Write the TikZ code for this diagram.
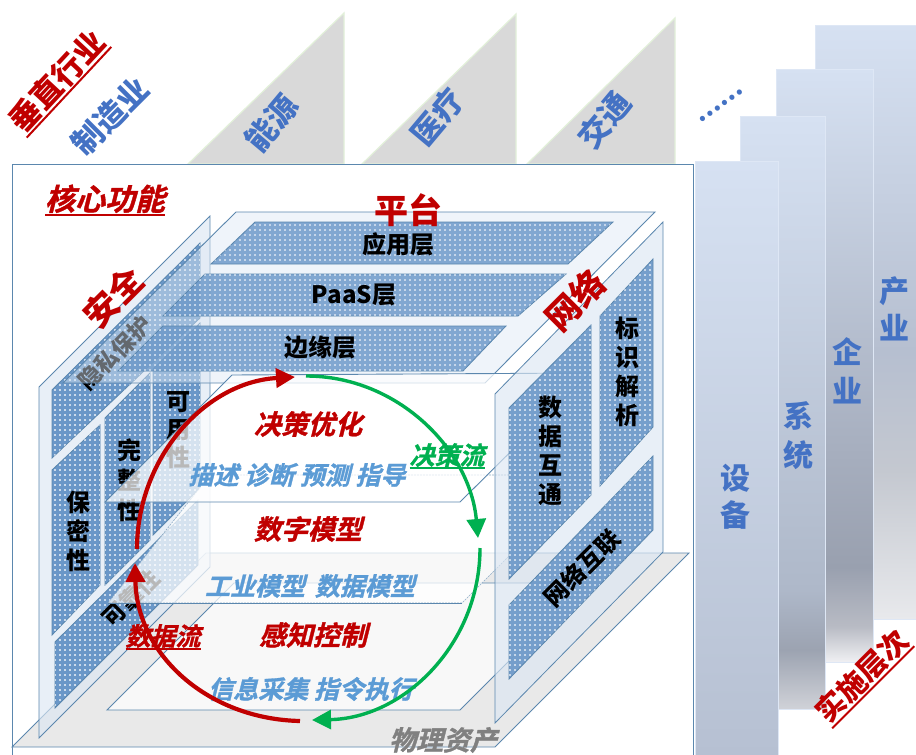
\documentclass[tikz,border=0pt]{standalone}
\usepackage{fontspec}
\usetikzlibrary{patterns,arrows.meta}
\newfontfamily\cjk{Noto Sans CJK SC}
\newfontfamily\cjkslant{Noto Sans CJK SC Bold}[FakeSlant=0.25,FakeBold=1.2]
\definecolor{edgeblue}{HTML}{5B87AE}
\definecolor{panelblue}{HTML}{6A97C8}
\definecolor{wallblue}{HTML}{DCE7F3}
\definecolor{platblue}{HTML}{DDE8F4}
\definecolor{dred}{HTML}{C00000}
\definecolor{lblue}{HTML}{5B9BD5}
\definecolor{mblue}{HTML}{4472C4}
\definecolor{dgreen}{HTML}{00B050}
\definecolor{triedge}{HTML}{E2F0D9}
\definecolor{trifill}{HTML}{D9D9D9}
\definecolor{floorgray}{HTML}{E9E9E9}
\pgfdeclarepatternformonly{wdots}{\pgfqpoint{-1pt}{-1pt}}{\pgfqpoint{1pt}{1pt}}{\pgfqpoint{5pt}{5pt}}{%
  \pgfpathrectangle{\pgfqpoint{-0.9pt}{-0.3pt}}{\pgfqpoint{1.8pt}{0.6pt}}%
  \pgfpathrectangle{\pgfqpoint{-0.3pt}{-0.9pt}}{\pgfqpoint{0.6pt}{1.8pt}}%
  \pgfusepath{fill}}
\definecolor{ctop}{HTML}{D6E1F2}
\definecolor{cA}{HTML}{B6BFD0}
\definecolor{cB}{HTML}{C4C8D0}
\definecolor{cC}{HTML}{E8E9EC}
\definecolor{cD}{HTML}{A6AEBE}
\definecolor{cE}{HTML}{99A0AF}
\definecolor{cF}{HTML}{B8BBC4}
\definecolor{cG}{HTML}{F0F0F3}
\definecolor{cH}{HTML}{AEB8C9}
\definecolor{cI}{HTML}{9CA3B1}
\definecolor{cJ}{HTML}{D0D2D8}
\definecolor{cK}{HTML}{B6C0D2}
\pgfdeclareverticalshading{chanye}{100bp}{color(0bp)=(cC); color(25bp)=(cC); color(37.5bp)=(cB); color(47.5bp)=(cA); color(75bp)=(ctop); color(100bp)=(ctop)}
\pgfdeclareverticalshading{qiye}{100bp}{color(0bp)=(cG); color(25bp)=(cG); color(28bp)=(cF); color(33bp)=(cE); color(42.5bp)=(cD); color(75bp)=(ctop); color(100bp)=(ctop)}
\pgfdeclareverticalshading{xitong}{100bp}{color(0bp)=(cJ); color(25bp)=(cJ); color(30bp)=(cI); color(35bp)=(cH); color(75bp)=(ctop); color(100bp)=(ctop)}
\pgfdeclareverticalshading{shebei}{100bp}{color(0bp)=(cK); color(25bp)=(cK); color(75bp)=(ctop); color(100bp)=(ctop)}
\newcommand\ulbox[2][2pt]{\leavevmode\vtop{\hbox{#2}\kern0.5pt\hrule height #1}}
\tikzset{
  fs/.style={font=\cjk\bfseries\fontsize{#1}{#1}\selectfont,inner sep=0pt},
  fi/.style={font=\cjkslant\fontsize{#1}{#1}\selectfont,inner sep=0pt},
  stack/.style={font=\cjk\bfseries\fontsize{24}{#1}\selectfont,inner sep=0pt,align=center},
  panel/.style={draw=edgeblue,line width=0.8pt,fill=panelblue,postaction={pattern=wdots,pattern color=white}},
  wall/.style={draw=edgeblue,line width=0.8pt,fill=wallblue,fill opacity=0.65},
  plate/.style={draw=edgeblue,line width=0.9pt,fill=white,fill opacity=0.72},
  platd/.style={draw=edgeblue!70,line width=0.6pt,dash pattern=on 2pt off 1pt,fill=white,fill opacity=0.72},
  tri/.style={fill=trifill,draw=triedge,line width=1.2pt},
  lvl/.style={draw=ctop!80!white,line width=0.8pt},
  redarrow/.style={draw=dred,line width=4.2pt,-{Triangle[length=19pt,width=19pt]}},
  greenarrow/.style={draw=dgreen,line width=3.4pt,-{Triangle[length=19pt,width=19pt]}},
}
\begin{document}
\begin{tikzpicture}[x=1pt,y=-1pt]
\useasboundingbox (0,0) rectangle (916,755);
\fill[white] (0,0) rectangle (916,755);
% top triangles
\draw[tri] (188,164) -- (344,13) -- (344,164) -- cycle;
\draw[tri] (362,164) -- (516,14) -- (516,164) -- cycle;
\draw[tri] (527,164) -- (675,18) -- (675,164) -- cycle;
% level columns
\path[shading=chanye,lvl] (815,25) rectangle (916,619);
\path[shading=qiye,lvl] (776,69) rectangle (873,662);
\path[shading=xitong,lvl] (740,116) rectangle (825,709);
% frame
\fill[white] (12.5,164.5) rectangle (693,755);
\draw[edgeblue,line width=1pt] (12.5,755) -- (12.5,164.5) -- (693,164.5) -- (693,755);
\path[shading=shebei,lvl] (695,161) rectangle (778,756);
% floor
\draw[edgeblue,line width=0.8pt,fill=floorgray] (12,747) -- (495,747) -- (689,553) -- (206,553) -- cycle;
% left wall
\draw[wall] (39,387) -- (210,216) -- (210,567) -- (39,738) -- cycle;
\draw[panel] (52,390) -- (200,243) -- (200,318) -- (52,458) -- cycle;
\draw[panel] (52,470) -- (100,425) -- (100,585) -- (52,635) -- cycle;
\draw[panel] (105,418) -- (150,373) -- (150,540) -- (105,585) -- cycle;
\draw[panel] (153,369) -- (200,323) -- (200,488) -- (153,535) -- cycle;
\draw[panel] (55,642) -- (198,500) -- (198,565) -- (55,708) -- cycle;
\node[fs=23,rotate=45] (yinsi) at (115,353) {隐私保护};
\node[stack=29] (baomi) at (78,531) {保\\密\\性};
\node[stack=30] (wanzheng) at (129,480) {完\\整\\性};
\node[stack=28] (keyong) at (178,430) {可\\用\\性};
\node[fs=23,rotate=45] (kekao) at (131,598) {可靠性};
% platform
\draw[edgeblue,line width=0.9pt,fill=platblue,fill opacity=0.45] (236,212) -- (655,212) -- (485,383) -- (63,383) -- cycle;
\begin{scope}[fill opacity=0.82]
\draw[panel] (255,222) -- (613,222) -- (568,264) -- (211,264) -- cycle;
\draw[panel] (205,274) -- (566,274) -- (518,316) -- (163,316) -- cycle;
\draw[panel] (163,326) -- (506,326) -- (463,371) -- (118,371) -- cycle;
\end{scope}
% planes
\draw[plate] (234,583) -- (587,583) -- (460,710) -- (107,710) -- cycle;
\draw[platd] (210,475) -- (590,475) -- (462,603) -- (108,603) -- cycle;
\draw[edgeblue,line width=0.8pt] (108,603) -- (462,603);
\draw[plate] (232,375) -- (590,373) -- (460,502) -- (105,502) -- cycle;
% right wall
\draw[wall] (663,222) -- (663,552) -- (495,723) -- (495,394) -- cycle;
\begin{scope}[fill opacity=0.9]
\draw[panel] (509,408) -- (591,325) -- (591,495) -- (509,579) -- cycle;
\draw[panel] (600,316) -- (653,259) -- (653,427) -- (600,486) -- cycle;
\draw[panel] (509,605) -- (653,456) -- (653,530) -- (509,679) -- cycle;
\end{scope}
% arrow ends
\coordinate (r1s) at (300,721);
\coordinate (r1e) at (135,563);
\coordinate (r2s) at (137,549);
\coordinate (r2e) at (295,377);
\coordinate (g1s) at (306,376);
\coordinate (g1e) at (478,538);
\coordinate (g2s) at (480,548);
\coordinate (g2e) at (312,720);
% labels
\node[fs=31,rotate=47,text=dred] (chuizhi) at (58,82) {\ulbox{垂直行业}};
\node[fs=31,rotate=45,text=mblue] (zhizao) at (110,116) {制造业};
\node[fs=31,rotate=50,text=mblue] (nengyuan) at (271,123) {能源};
\node[fs=31,rotate=50,text=mblue] (yiliao) at (437,117) {医疗};
\node[fs=31,rotate=50,text=mblue] (jiaotong) at (604,120) {交通};
\node[fs=24,rotate=35,text=mblue] (dots) at (721,106) {……};
\node[fi=30,text=dred] (hexin) at (105,200) {\ulbox{核心功能}};
\node[fs=34,text=dred] (pingtai) at (408,210) {平台};
\node[fs=24] (yingyong) at (398,244) {应用层};
\node[fs=24] (paas) at (354,295) {PaaS层};
\node[fs=24] (bianyuan) at (320,347) {边缘层};
\node[fs=34,rotate=45,text=dred] (anquan) at (113,297) {安全};
\node[fs=34,rotate=45,text=dred] (wangluo) at (575,300) {网络};
\node[stack=29] (shuju) at (550,451) {数\\据\\互\\通};
\node[stack=29] (biaoshi) at (627,372) {标\\识\\解\\析};
\node[fs=24,rotate=45] (wlhl) at (582,568) {网络互联};
\node[fi=27,text=dred] (juece) at (308,424) {决策优化};
\node[fi=25,text=lblue] (miaoshu) at (297,475) {描述 诊断 预测 指导};
\node[fi=25,text=dgreen] (jcl) at (447,456) {\ulbox[1.5pt]{决策流}};
\node[fi=27,text=dred] (shuzi) at (308,529) {数字模型};
\node[fi=25,text=lblue] (gongye) at (310,586) {工业模型\, 数据模型};
\node[fi=27,text=dred] (ganzhi) at (313,635) {感知控制};
\node[fi=25,text=lblue] (xinxi) at (311,689) {信息采集 指令执行};
\node[fi=25,text=dred] (sjl) at (163,637) {\ulbox[1.5pt]{数据流}};
\node[fi=27,text=black!50] (wuli) at (443,740) {物理资产};
\node[stack=37,text=mblue,font=\cjk\bfseries\fontsize{30}{37}\selectfont] (shebei) at (735,497) {设\\备};
\node[stack=39,text=mblue,font=\cjk\bfseries\fontsize{30}{39}\selectfont] (xitong) at (798,436) {系\\统};
\node[stack=39,text=mblue,font=\cjk\bfseries\fontsize{30}{39}\selectfont] (qiye) at (847,371) {企\\业};
\node[stack=37,text=mblue,font=\cjk\bfseries\fontsize{30}{37}\selectfont] (chanye) at (894,309) {产\\业};
\node[fs=29,rotate=45,text=dred] (shishi) at (863,677) {\ulbox{实施层次}};
% circulation arrows
\draw[redarrow] (r1s) .. controls (208,719) and (137,655) .. (r1e);
\draw[redarrow] (r2s) .. controls (137,458) and (205,382) .. (r2e);
\draw[greenarrow] (g1s) .. controls (398,376) and (470,450) .. (g1e);
\draw[greenarrow] (g2s) .. controls (480,643) and (405,718) .. (g2e);
\end{tikzpicture}
\end{document}
